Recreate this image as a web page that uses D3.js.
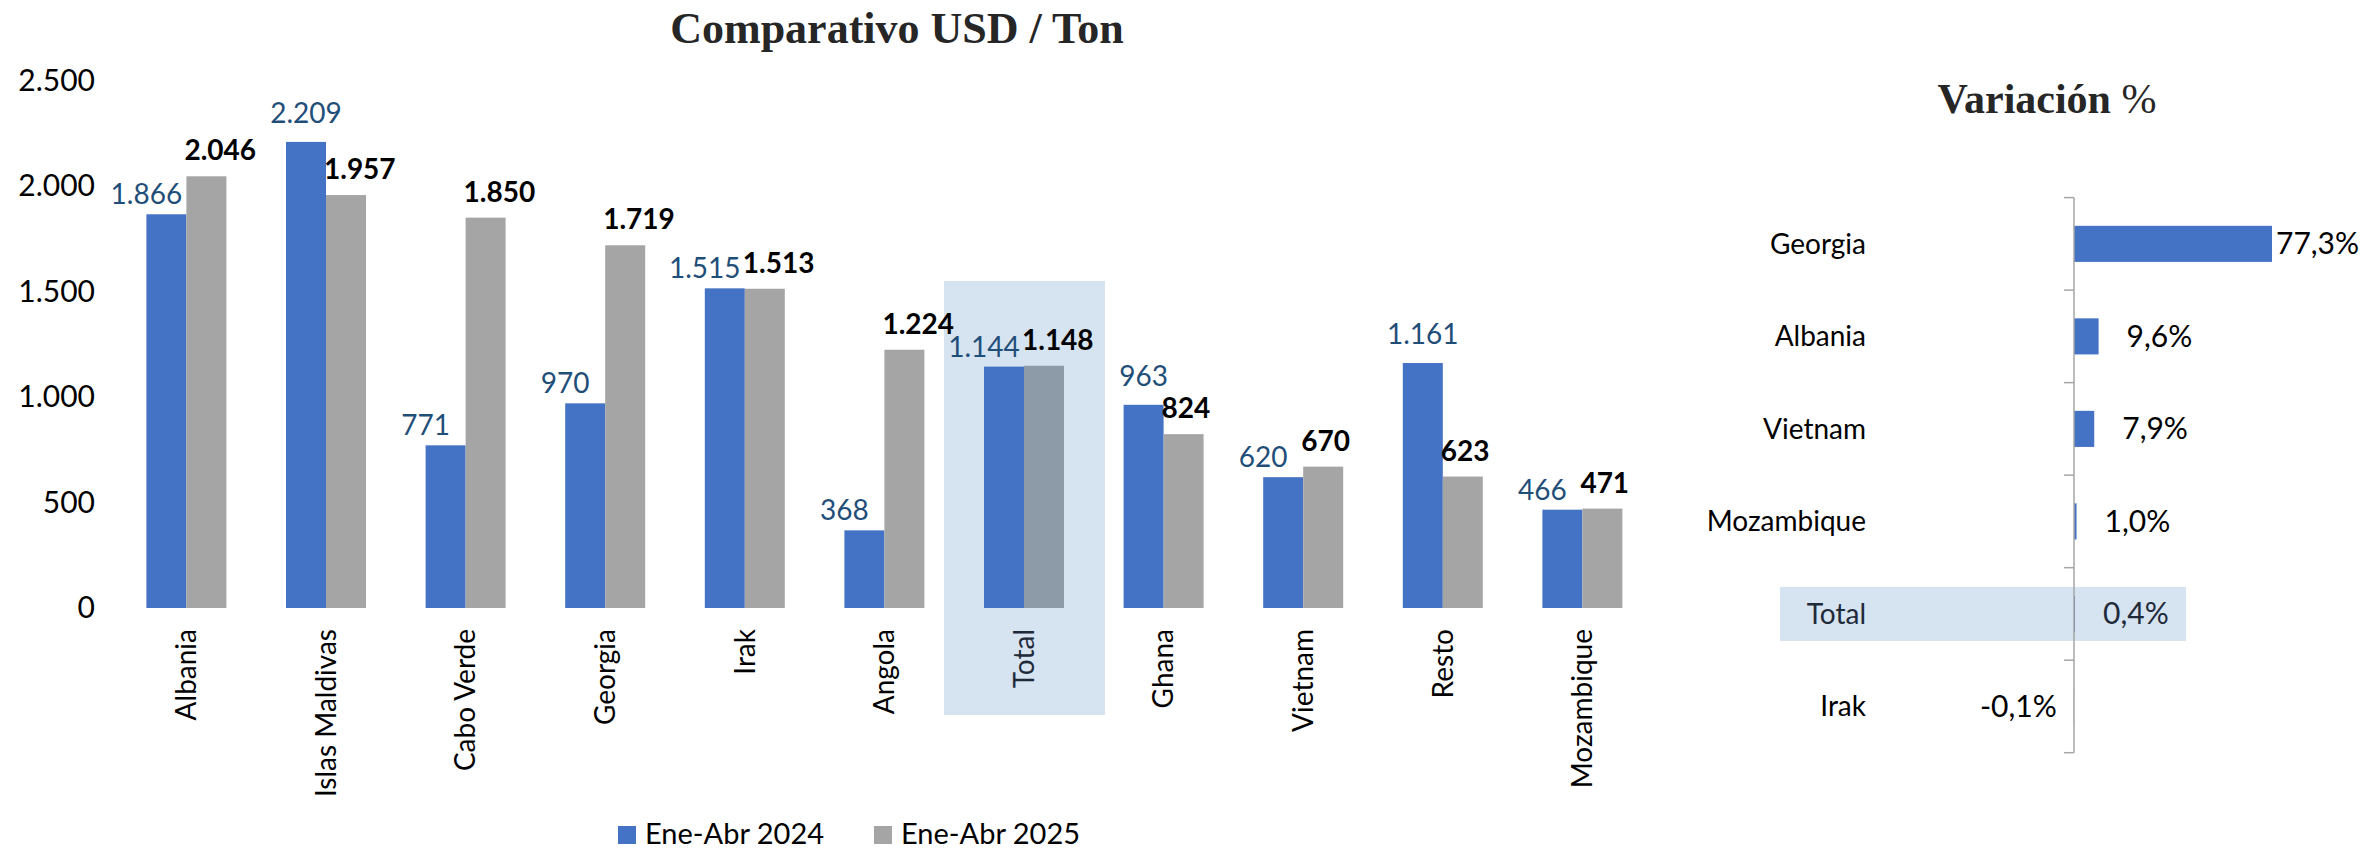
<!DOCTYPE html>
<meta charset="utf-8">
<title>Comparativo USD / Ton</title>
<style>
    body { margin: 0; background: #fff; }
    text { font-family: Lato, "Noto Sans", sans-serif; }
    .title { font-family: "Liberation Serif", serif; font-weight: bold; fill: #262626; }
</style>
<body>
<script src="https://cdn.jsdelivr.net/npm/d3@7"></script>
<script>
    // data
    const countries = ['Albania', 'Islas Maldivas', 'Cabo Verde', 'Georgia', 'Irak', 'Angola', 'Total', 'Ghana', 'Vietnam', 'Resto', 'Mozambique'];
    const usd2024 = [1866, 2209, 771, 970, 1515, 368, 1144, 963, 620, 1161, 466];
    const usd2025 = [2046, 1957, 1850, 1719, 1513, 1224, 1148, 824, 670, 623, 471];
    const seriesNames = ['Ene-Abr 2024', 'Ene-Abr 2025'];
    const yTicks = [0, 500, 1000, 1500, 2000, 2500];

    const varCountries = ['Georgia', 'Albania', 'Vietnam', 'Mozambique', 'Total', 'Irak'];
    const varPct = [77.3, 9.6, 7.9, 1.0, 0.4, -0.1];

    const width = 2366, height = 852;
    const blue = '#4472C4', grey = '#A5A5A5', greyTotal = '#8D9BA9', boxFill = '#D6E3F0';
    const labelBlue = '#1F4E79', totalInk = '#1E2A3A';

    const es = d3.formatLocale({decimal: ',', thousands: '.', grouping: [3], currency: ['', ''], minus: '-'});
    const fmtNum = es.format(',d');
    const fmtPct = v => es.format('.1f')(v) + '%';

    let svg = d3.select('body').append('svg')
        .attr('width', width)
        .attr('height', height);

    // ---------- left chart ----------
    let x0 = d3.scaleBand()
        .domain(countries)
        .range([116.6, 1652.2])
        .paddingInner(0.427)
        .paddingOuter(0.2135);
    let x1 = d3.scaleBand().domain([0, 1]).range([0, x0.bandwidth()]);
    let y = d3.scaleLinear().domain([0, 2500]).range([608, 80.5]);

    svg.append('text').attr('class', 'title')
        .attr('x', 897).attr('y', 43)
        .attr('text-anchor', 'middle')
        .style('font-size', '44px')
        .text('Comparativo USD / Ton');

    // highlight behind Total
    let tc = x0('Total') + x0.bandwidth() / 2;
    svg.append('rect')
        .attr('x', tc - 80).attr('y', 281)
        .attr('width', 161).attr('height', 434)
        .attr('fill', boxFill);

    // y axis (labels only)
    let yAxis = svg.append('g')
        .attr('transform', 'translate(95,0)')
        .call(d3.axisLeft(y).tickValues(yTicks).tickFormat(fmtNum).tickSize(0).tickPadding(0));
    yAxis.select('.domain').remove();
    yAxis.selectAll('text')
        .style('font-family', 'Lato, sans-serif')
        .style('font-size', '30px')
        .attr('fill', '#000');

    let groups = svg.append('g').selectAll('g')
        .data(countries)
        .enter().append('g')
        .attr('transform', d => `translate(${x0(d)},0)`);

    groups.append('rect')
        .attr('x', x1(0)).attr('width', x1.bandwidth())
        .attr('y', (d, i) => y(usd2024[i]))
        .attr('height', (d, i) => y(0) - y(usd2024[i]))
        .attr('fill', blue);

    groups.append('rect')
        .attr('x', x1(1)).attr('width', x1.bandwidth())
        .attr('y', (d, i) => y(usd2025[i]))
        .attr('height', (d, i) => y(0) - y(usd2025[i]))
        .attr('fill', d => d === 'Total' ? greyTotal : grey);

    // 2024 labels: beside the grey bar when it is as tall, otherwise centred
    groups.append('text')
        .attr('x', (d, i) => usd2025[i] > usd2024[i] - 50 ? x1(0) : x1(0) + x1.bandwidth() / 2)
        .attr('y', (d, i) => y(usd2024[i]) - (usd2025[i] > usd2024[i] - 50 ? 10 : 19))
        .attr('text-anchor', 'middle')
        .attr('fill', labelBlue)
        .style('font-size', '28px')
        .text((d, i) => fmtNum(usd2024[i]));

    groups.append('text')
        .attr('x', x1(1) - 2)
        .attr('y', (d, i) => y(usd2025[i]) - 16)
        .attr('fill', '#000')
        .style('font-size', '28px')
        .style('font-weight', 'bold')
        .text((d, i) => fmtNum(usd2025[i]));

    // category labels
    svg.append('g').selectAll('text')
        .data(countries)
        .enter().append('text')
        .attr('transform', d => `translate(${x0(d) + x0.bandwidth() / 2},629) rotate(-90)`)
        .attr('text-anchor', 'end')
        .attr('dy', '0.35em')
        .attr('fill', d => d === 'Total' ? totalInk : '#000')
        .style('font-size', '28px')
        .text(d => d);

    // legend
    let legend = svg.append('g').selectAll('g')
        .data(seriesNames)
        .enter().append('g')
        .attr('transform', (d, i) => `translate(${618 + i * 256},826)`);
    legend.append('rect')
        .attr('width', 18).attr('height', 18)
        .attr('fill', (d, i) => i ? grey : blue);
    legend.append('text')
        .attr('x', 27).attr('y', 18)
        .style('font-size', '29px')
        .attr('fill', '#000')
        .text(d => d);

    // ---------- right chart ----------
    let xv = d3.scaleLinear()
        .domain([0, d3.max(varPct)])
        .range([2074, 2272]);
    let yv = d3.scaleBand()
        .domain(varCountries)
        .range([197.6, 752.7]);
    let barH = yv.bandwidth() * 0.39;

    let vt = svg.append('text').attr('class', 'title')
        .attr('x', 2047).attr('y', 113)
        .attr('text-anchor', 'middle')
        .style('font-size', '42px');
    vt.append('tspan').text('Variación ');
    vt.append('tspan').style('font-weight', 'normal').text('%');

    svg.append('rect')
        .attr('x', 1780).attr('y', yv('Total') + yv.bandwidth() / 2 - 27)
        .attr('width', 406).attr('height', 54)
        .attr('fill', boxFill);

    svg.append('g').selectAll('rect')
        .data(varCountries)
        .enter().append('rect')
        .attr('x', (d, i) => Math.min(xv(0), xv(varPct[i])))
        .attr('width', (d, i) => Math.abs(xv(varPct[i]) - xv(0)))
        .attr('y', d => yv(d) + (yv.bandwidth() - barH) / 2)
        .attr('height', barH)
        .attr('fill', blue);

    // axis with ticks at band edges
    let axisY = svg.append('g').attr('stroke', '#A6A6A6').attr('stroke-width', 1.5);
    axisY.append('line')
        .attr('x1', xv(0)).attr('x2', xv(0))
        .attr('y1', yv.range()[0]).attr('y2', yv.range()[1]);
    axisY.selectAll('.tk')
        .data(d3.range(varCountries.length + 1))
        .enter().append('line')
        .attr('x1', xv(0) - 10).attr('x2', xv(0))
        .attr('y1', i => yv.range()[0] + i * yv.step())
        .attr('y2', i => yv.range()[0] + i * yv.step());

    svg.append('g').selectAll('text')
        .data(varCountries)
        .enter().append('text')
        .attr('x', 1866)
        .attr('y', d => yv(d) + yv.bandwidth() / 2)
        .attr('dy', '0.35em')
        .attr('text-anchor', 'end')
        .attr('fill', d => d === 'Total' ? totalInk : '#000')
        .style('font-size', '28px')
        .text(d => d);

    svg.append('g').selectAll('text')
        .data(varCountries)
        .enter().append('text')
        .attr('x', (d, i) => varPct[i] < 0 ? xv(varPct[i]) - 17 : xv(varPct[i]) + (xv(varPct[i]) - xv(0) > 100 ? 4 : 28))
        .attr('y', d => yv(d) + yv.bandwidth() / 2)
        .attr('dy', '0.35em')
        .attr('text-anchor', (d, i) => varPct[i] < 0 ? 'end' : 'start')
        .attr('fill', d => d === 'Total' ? totalInk : '#000')
        .style('font-size', '30px')
        .text((d, i) => fmtPct(varPct[i]));
</script>
</body>
